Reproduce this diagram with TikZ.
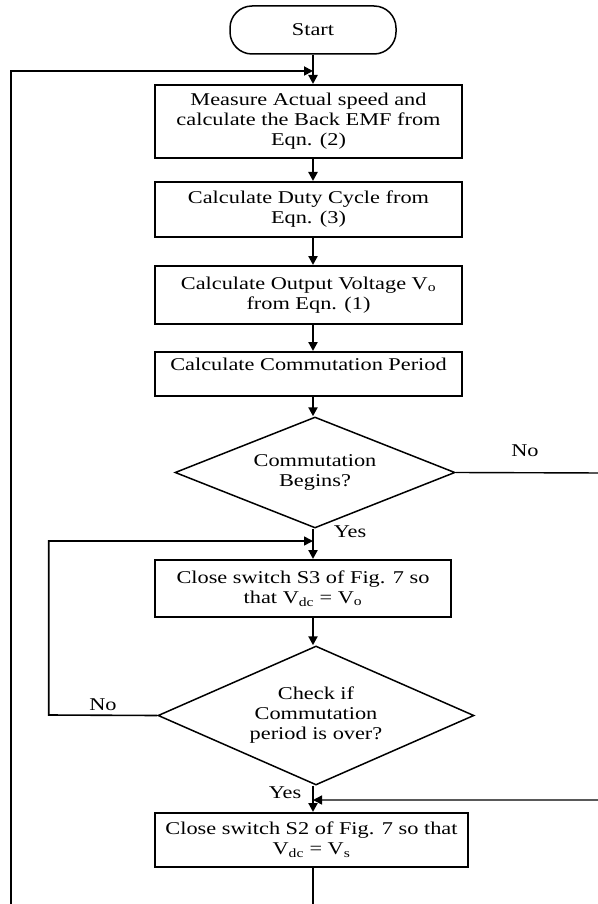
\documentclass[tikz,border=0pt]{standalone}
\usepackage{fontspec}
\setmainfont{Liberation Serif}[FakeStretch=1.24]
\usetikzlibrary{arrows.meta,shapes.geometric}
\begin{document}
\begin{tikzpicture}[x=1pt,y=-1pt,
  txt/.style={font=\fontsize{18}{20}\selectfont, align=center},
  procbox/.style={txt, draw, line width=2pt, inner sep=0pt},
  decbox/.style={txt, draw, shape=diamond, line width=1.5pt, inner sep=0pt},
  flow/.style={line width=2.2pt, -{Triangle[length=9pt,width=9pt]}},
  loopline/.style={line width=1.8pt, -{Triangle[length=9pt,width=9pt]}},
  lbl/.style={font=\fontsize{18}{20}\selectfont, inner sep=0pt}]
\useasboundingbox (0,0) rectangle (597,904);
% nodes
\node[txt, draw, line width=1.5pt, rounded corners=22pt, minimum width=166pt, minimum height=48pt] (start) at (313,30) {Start};
\node[procbox, minimum width=307pt, minimum height=73pt] (b1) at (308.5,121.5) {Measure Actual speed and\\calculate the Back EMF from\\Eqn. (2)};
\node[procbox, minimum width=307pt, minimum height=55pt] (b2) at (308.5,209.5) {Calculate Duty Cycle from\\Eqn. (3)};
\node[procbox, minimum width=307pt, minimum height=58pt] (b3) at (308.5,295) {Calculate Output Voltage V\textsubscript{o}\\from Eqn. (1)};
\node[procbox, minimum width=307pt, minimum height=44pt, text depth=20pt] (b4) at (308.5,374) {Calculate Commutation Period};
\node[decbox, minimum width=280pt, minimum height=111pt, aspect=2.52] (d1) at (315,472.5) {Commutation\\Begins?};
\node[procbox, minimum width=296pt, minimum height=57pt] (b5) at (303,588.5) {Close switch S3 of Fig. 7 so\\that V\textsubscript{dc} = V\textsubscript{o}};
\node[decbox, minimum width=316pt, minimum height=139pt, aspect=2.27] (d2) at (316,715.5) {Check if\\Commutation\\period is over?};
\node[procbox, minimum width=313pt, minimum height=54pt] (b6) at (311.5,840) {Close switch S2 of Fig. 7 so that\\V\textsubscript{dc} = V\textsubscript{s}};
% junction points
\coordinate (j1) at (313,71);
\coordinate (j2) at (313,541);
\coordinate (j3) at (313,800);
\coordinate (bl) at (10.7,925);
\coordinate (br) at (313,925);
\coordinate (r1) at (605,473);
\coordinate (r2) at (605,800);
\coordinate (l1) at (48.7,715);
\coordinate (l2) at (48.7,541);
% main flow
\draw[flow] (start.south -| j1) -- (b1.north -| j1);
\draw[flow] (b1.south -| j1) -- (b2.north -| j1);
\draw[flow] (b2.south -| j1) -- (b3.north -| j1);
\draw[flow] (b3.south -| j1) -- (b4.north -| j1);
\draw[flow] (b4.south -| j1) -- (d1.north -| j1);
\draw[flow] (d1.south -| j1) -- (b5.north -| j1);
\draw[flow] (b5.south -| j1) -- (d2.north -| j1);
\draw[flow] (d2.south -| j1) -- (b6.north -| j1);
% loops
\draw[loopline] (b6.south -| br) -- (br) -- (bl) -- (bl |- j1) -- (j1);
\draw[line width=1.4pt, -{Triangle[length=9pt,width=9pt]}] (d1.east) -- (r1) -- (r2) -- (j3);
\draw[line width=1.6pt, -{Triangle[length=9pt,width=9pt]}] (d2.west) -- (l1) -- (l2) -- (j2);
% labels
\node[lbl] (no1) at (525,451) {No};
\node[lbl] (yes1) at (350,532) {Yes};
\node[lbl] (no2) at (103,705) {No};
\node[lbl] (yes2) at (285,793) {Yes};
\end{tikzpicture}
\end{document}
